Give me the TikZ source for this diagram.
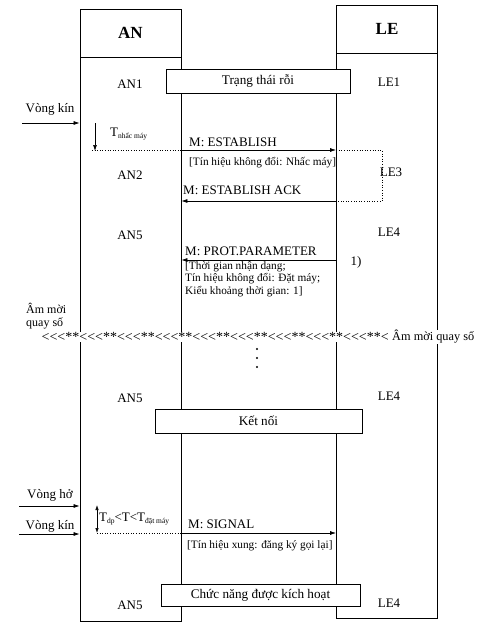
\documentclass[tikz,border=0pt]{standalone}
\usepackage{fontspec}
\setmainfont{Liberation Serif}
\usetikzlibrary{arrows.meta}
\tikzset{
  colbox/.style={draw, line width=0.8pt, minimum width=101pt, inner sep=0pt},
  statebox/.style={draw, line width=0.8pt, fill=white, inner sep=0pt, font=\fontsize{13.2}{15}\selectfont},
  lbl/.style={inner sep=0pt, font=\fontsize{13}{15}\selectfont},
  small/.style={inner sep=0pt, font=\fontsize{11.3}{12.5}\selectfont, align=left},
  msg/.style={line width=0.7pt, -{Latex[length=6pt,width=4pt]}},
  dots/.style={line width=0.6pt, dotted},
}
\newcommand{\sub}[1]{{\fontsize{7.5}{8}\selectfont\raisebox{-2.5pt}{#1}}}
\newcommand{\lt}{<\kern0pt}
\newcommand{\grp}{\lt\lt\lt**}
\begin{document}
\begin{tikzpicture}[x=1pt,y=-1pt]
\useasboundingbox (0,0) rectangle (488,638);
% columns
\node[colbox, minimum height=48pt] (ANh) at (130.5,33) {};
\node[colbox, minimum height=564pt] (ANb) at (130.5,339) {};
\node[colbox, minimum height=48pt] (LEh) at (387,29) {};
\node[colbox, minimum height=565pt] (LEb) at (387,335.5) {};
\node[inner sep=0pt, font=\fontsize{17}{20}\selectfont\bfseries] (ANt) at (ANh) {AN};
\node[inner sep=0pt, font=\fontsize{17}{20}\selectfont\bfseries] (LEt) at (LEh) {LE};

% states
\node[statebox, minimum width=184pt, minimum height=24pt] (idle) at (258,81) {Trạng thái rỗi};
\node[lbl] (an1) at (130,84) {AN1};
\node[lbl] (le1) at (389,82) {LE1};

% Vong kin 1
\node[lbl] (vk1) at (50,109) {Vòng kín};
\coordinate (vk1s) at (22,123);
\draw[msg] (vk1s) -- (ANb.west |- vk1s);
\coordinate (tn1) at (95,123);
\coordinate (tn2) at (95,151);
\draw[msg] (tn1) -- (tn2);
\node[lbl, anchor=west] (tnh) at (110,134) {T\sub{nhấc máy}};

% ESTABLISH
\draw[dots] (92,150.5) -- (ANb.east |- 0,150.5);
\draw[msg] (ANb.east |- 0,150) -- (LEb.west |- 0,150);
\node[lbl, anchor=south west] (m1) at (189,147) {M: ESTABLISH};
\node[small, anchor=west] (b1) at (189,163) {[Tín hiệu không đổi: Nhấc máy]};
\coordinate (lp) at (382,176);
\draw[dots] (LEb.west |- 0,150) -| (lp) |- (LEb.west |- 0,201);
\draw[msg] (LEb.west |- 0,201) -- (ANb.east |- 0,201);
\node[lbl] (an2) at (130,175) {AN2};
\node[lbl] (le3) at (391,172) {LE3};
\node[lbl, anchor=west] (m2) at (183,190) {M: ESTABLISH ACK};

% PROT.PARAMETER
\node[lbl] (an5a) at (130,235) {AN5};
\node[lbl] (le4a) at (389,232) {LE4};
\node[lbl, anchor=west] (m3) at (185,251) {M: PROT.PARAMETER};
\draw[msg] (LEb.west |- 0,260) -- (ANb.east |- 0,260);
\node[lbl] (n1) at (356,262) {1)};
\node[small, anchor=north west, font=\fontsize{11.3}{12.6}\selectfont] (b3) at (185,261) {[Thời gian nhận dạng;\\Tín hiệu không đổi: Đặt máy;\\Kiểu khoảng thời gian: 1]};

% dial tone
\node[lbl, anchor=west, align=left, font=\fontsize{12}{13}\selectfont] (am1) at (26,316) {Âm mời\\quay số};
\node[inner sep=0.5pt, fill=white, anchor=west, font=\fontsize{14}{15}\selectfont] (dt) at (41,337) {\grp\grp\grp\grp\grp\grp\grp\grp\grp\lt};
\node[inner sep=0.5pt, fill=white, anchor=west, font=\fontsize{12.3}{14}\selectfont] (dtt) at (dt.east) {\,Âm mời quay số};
\fill (257,349) circle (1.1);
\fill (257,358) circle (1.1);
\fill (257,367) circle (1.1);

% connected
\node[lbl] (an5b) at (130,398) {AN5};
\node[lbl] (le4b) at (389,396) {LE4};
\node[statebox, minimum width=207pt, minimum height=24pt] (conn) at (258.5,421) {Kết nối};

% Vong ho / Vong kin 2
\node[lbl] (vh) at (50,495) {Vòng hở};
\coordinate (vhs) at (19,506);
\draw[msg] (vhs) -- (ANb.west |- vhs);
\node[lbl] (vk2) at (50,526) {Vòng kín};
\coordinate (vk2s) at (19,534);
\draw[msg] (vk2s) -- (ANb.west |- vk2s);
\coordinate (td1) at (97,505);
\coordinate (td2) at (97,533);
\draw[line width=0.7pt, {Latex[length=5pt,width=3.5pt]}-{Latex[length=5pt,width=3.5pt]}] (td1) -- (td2);
\node[lbl, anchor=west] (tdp) at (99,519) {T\sub{dp}<T<T\sub{đặt máy}};

% SIGNAL
\draw[dots] (td2) -- (ANb.east |- td2);
\draw[msg] (ANb.east |- td2) -- (LEb.west |- td2);
\node[lbl, anchor=west] (m4) at (188,524) {M: SIGNAL};
\node[small, anchor=west] (b4) at (187,546) {[Tín hiệu xung: đăng ký gọi lại]};

% activated
\node[statebox, minimum width=199pt, minimum height=22pt] (act) at (260.5,595) {Chức năng được kích hoạt};
\node[lbl] (an5c) at (130,605) {AN5};
\node[lbl] (le4c) at (389,603) {LE4};
\end{tikzpicture}
\end{document}
